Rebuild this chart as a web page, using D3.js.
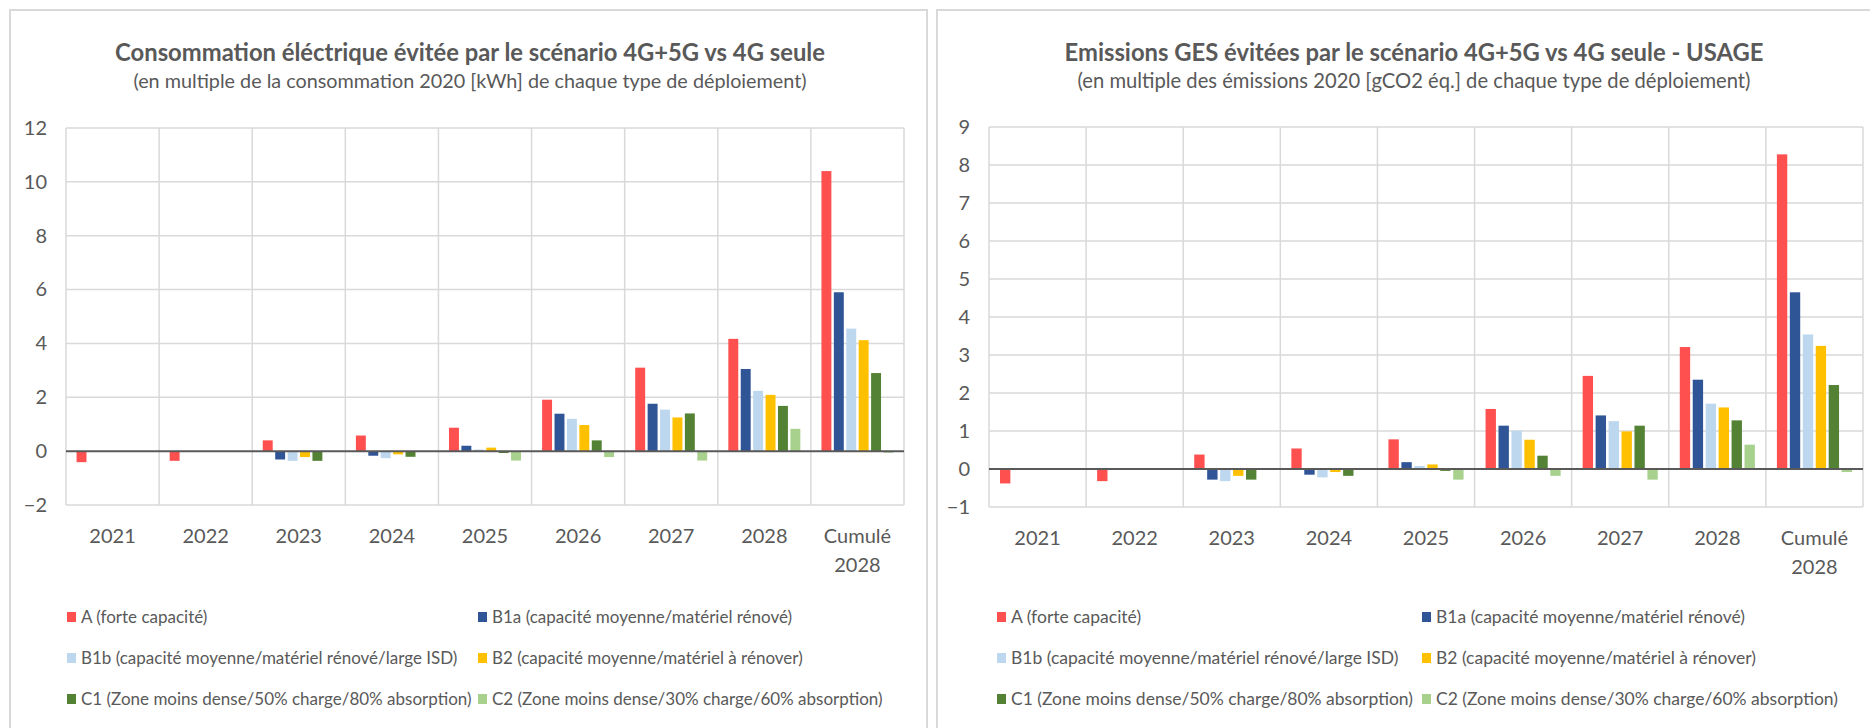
<!DOCTYPE html>
<html>
<head>
<meta charset="utf-8">
<script src="https://cdn.jsdelivr.net/npm/d3@7"></script>
<style>
body { margin: 0; background: #fff; }
svg text { font-family: Lato, "Open Sans", sans-serif; fill: #595959; }
</style>
</head>
<body>
<svg id="chart"></svg>
<script>
const W = 1870, H = 728;

// categories, series, ticks
const categories = ["2021", "2022", "2023", "2024", "2025", "2026", "2027", "2028", "Cumulé 2028"];
const seriesNames = [
  "A (forte capacité)",
  "B1a (capacité moyenne/matériel rénové)",
  "B1b (capacité moyenne/matériel rénové/large ISD)",
  "B2 (capacité moyenne/matériel à rénover)",
  "C1 (Zone moins dense/50% charge/80% absorption)",
  "C2 (Zone moins dense/30% charge/60% absorption)"
];
const seriesColors = ["#FF5050", "#2F5597", "#BDD7EE", "#FFC000", "#548235", "#A9D18E"];

const elecTicks = [-2, 0, 2, 4, 6, 8, 10, 12];
const gesTicks = [-1, 0, 1, 2, 3, 4, 5, 6, 7, 8, 9];

// consommation électrique évitée
const elecA   = [-0.41, -0.36, 0.40, 0.58, 0.87, 1.91, 3.10, 4.17, 10.40];
const elecB1a = [null, null, -0.31, -0.17, 0.20, 1.39, 1.76, 3.05, 5.90];
const elecB1b = [null, null, -0.36, -0.26, 0.06, 1.20, 1.54, 2.24, 4.55];
const elecB2  = [null, null, -0.22, -0.12, 0.13, 0.97, 1.25, 2.09, 4.12];
const elecC1  = [null, null, -0.36, -0.21, -0.07, 0.40, 1.40, 1.68, 2.90];
const elecC2  = [null, null, 0, 0, -0.35, -0.22, -0.35, 0.83, -0.06];

// émissions GES évitées
const gesA   = [-0.38, -0.32, 0.38, 0.54, 0.78, 1.58, 2.45, 3.21, 8.28];
const gesB1a = [null, null, -0.28, -0.15, 0.18, 1.14, 1.41, 2.35, 4.65];
const gesB1b = [null, null, -0.32, -0.22, 0.08, 1.01, 1.26, 1.72, 3.54];
const gesB2  = [null, null, -0.18, -0.08, 0.12, 0.77, 0.99, 1.62, 3.24];
const gesC1  = [null, null, -0.28, -0.18, -0.05, 0.35, 1.14, 1.28, 2.21];
const gesC2  = [null, null, 0, 0, -0.28, -0.18, -0.28, 0.64, -0.08];

const svg = d3.select("#chart").attr("width", W).attr("height", H);
svg.append("rect").attr("width", W).attr("height", H).attr("fill", "white");

function drawChart(o) {
  const g = svg.append("g");

  // cadre du graphique
  g.append("rect")
    .attr("x", o.panel[0]).attr("y", o.panel[1])
    .attr("width", o.panel[2]).attr("height", o.panel[3])
    .attr("fill", "white").attr("stroke", "#d9d9d9").attr("stroke-width", 2);

  g.append("text").text(o.title)
    .attr("x", o.cx).attr("y", 61)
    .attr("text-anchor", "middle")
    .style("font-size", "23.8px").style("font-weight", "bold");
  g.append("text").text(o.subtitle)
    .attr("x", o.cx).attr("y", 88)
    .attr("text-anchor", "middle")
    .style("font-size", o.subSize);

  const x0 = d3.scaleBand().domain(categories).range([o.left, o.right]);
  const x1 = d3.scaleBand().domain(seriesNames).range([0, x0.bandwidth()])
    .paddingInner(0.2).paddingOuter(0.85);
  const y = d3.scaleLinear()
    .domain([o.ticks[0], o.ticks[o.ticks.length - 1]])
    .range([o.bottom, o.top]);

  // quadrillage
  g.append("g").selectAll("line")
    .data(o.ticks.filter(t => t !== 0))
    .join("line")
    .attr("x1", o.left).attr("x2", o.right)
    .attr("y1", d => y(d)).attr("y2", d => y(d))
    .attr("stroke", "#d9d9d9").attr("stroke-width", 1.5);

  const edges = categories.map(c => x0(c)).concat([o.right]);
  g.append("g").selectAll("line")
    .data(edges)
    .join("line")
    .attr("x1", d => d).attr("x2", d => d)
    .attr("y1", o.top).attr("y2", o.bottom)
    .attr("stroke", "#d9d9d9").attr("stroke-width", 1.5);

  // barres
  const rows = categories.map((c, i) => ({
    cat: c,
    vals: o.series.map((s, j) => ({ name: seriesNames[j], v: s[i], color: seriesColors[j] }))
  }));

  g.append("g").selectAll("g")
    .data(rows)
    .join("g")
    .attr("transform", d => `translate(${x0(d.cat)},0)`)
    .selectAll("rect")
    .data(d => d.vals.filter(v => v.v != null))
    .join("rect")
    .attr("x", d => x1(d.name))
    .attr("width", x1.bandwidth())
    .attr("y", d => y(Math.max(0, d.v)))
    .attr("height", d => Math.abs(y(d.v) - y(0)))
    .attr("fill", d => d.color);

  // axe zéro
  g.append("line")
    .attr("x1", o.left).attr("x2", o.right)
    .attr("y1", y(0)).attr("y2", y(0))
    .attr("stroke", "#595959").attr("stroke-width", 2);

  // axe Y
  const yAxis = g.append("g")
    .attr("transform", `translate(${o.left},0)`)
    .call(d3.axisLeft(y).tickValues(o.ticks).tickSize(0).tickPadding(19));
  yAxis.select(".domain").remove();
  yAxis.selectAll("text").style("font-size", "20px");

  // axe X (étiquettes sur deux lignes si besoin)
  const xAxis = g.append("g")
    .attr("transform", `translate(0,${o.labelY})`)
    .call(d3.axisBottom(x0).tickSize(0).tickPadding(0));
  xAxis.select(".domain").remove();
  xAxis.selectAll("text")
    .attr("y", 0).attr("dy", null)
    .style("font-size", "20px")
    .each(function(d) {
      const t = d3.select(this);
      const parts = d.split(" ");
      t.text(null);
      parts.forEach((p, k) => {
        t.append("tspan").attr("x", 0).attr("dy", k === 0 ? 0 : 29).text(p);
      });
    });

  // légende
  const leg = g.append("g");
  seriesNames.forEach((name, i) => {
    const col = i % 2, row = Math.floor(i / 2);
    const lx = o.legendX[col], ly = 617 + row * 41;
    leg.append("rect")
      .attr("x", lx).attr("y", ly - 5)
      .attr("width", 9).attr("height", 10)
      .attr("fill", seriesColors[i]);
    leg.append("text").text(name)
      .attr("x", lx + 14).attr("y", ly + 6)
      .style("font-size", o.legendSize);
  });
}

drawChart({
  panel: [10, 10, 917, 740],
  cx: 470,
  title: "Consommation éléctrique évitée par le scénario 4G+5G vs 4G seule",
  subtitle: "(en multiple  de la consommation 2020 [kWh] de chaque type de déploiement)",
  subSize: "19.8px",
  left: 66, right: 904, top: 128, bottom: 505,
  ticks: elecTicks,
  series: [elecA, elecB1a, elecB1b, elecB2, elecC1, elecC2],
  labelY: 543,
  legendX: [67, 478],
  legendSize: "17px"
});

drawChart({
  panel: [937, 10, 960, 740],
  cx: 1414,
  title: "Emissions GES évitées par le scénario 4G+5G vs 4G seule - USAGE",
  subtitle: "(en multiple  des émissions 2020 [gCO2 éq.] de chaque type de déploiement)",
  subSize: "20.2px",
  left: 989, right: 1863, top: 127, bottom: 507,
  ticks: gesTicks,
  series: [gesA, gesB1a, gesB1b, gesB2, gesC1, gesC2],
  labelY: 545,
  legendX: [997, 1422],
  legendSize: "17.5px"
});
</script>
</body>
</html>
